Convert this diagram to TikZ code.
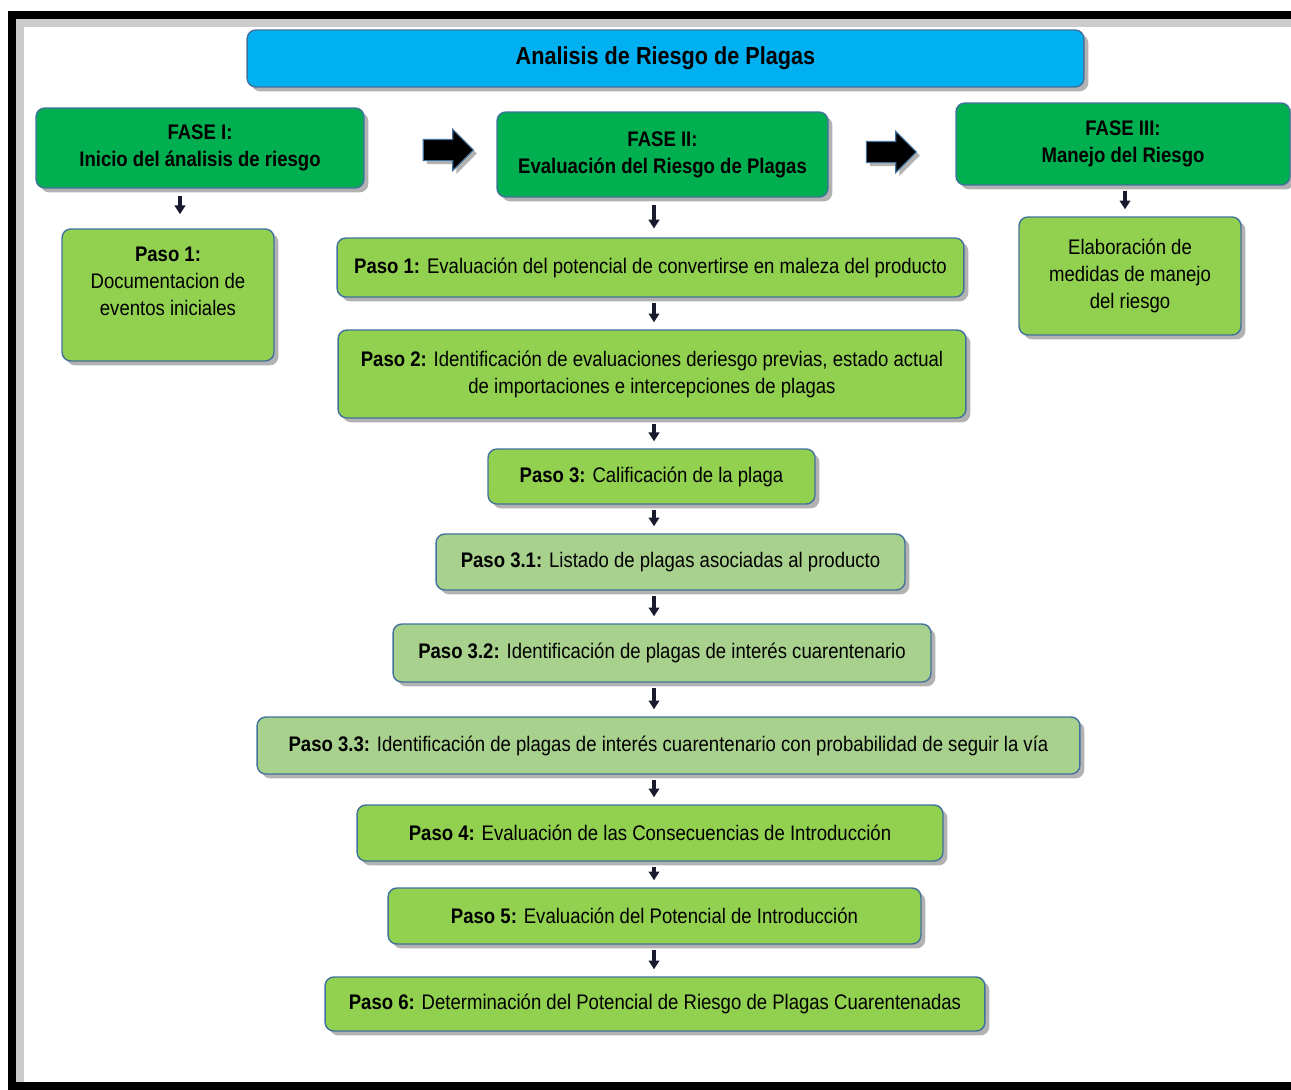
\documentclass[tikz,border=0pt]{standalone}
\usepackage{fontspec}
\setmainfont{Liberation Sans}[FakeStretch=0.88]
\usepackage{xcolor}
\usepackage{tikz}
\usetikzlibrary{arrows.meta,positioning,shapes.arrows,shadows}

\definecolor{titleblue}{HTML}{00B0F0}
\definecolor{phasegreen}{HTML}{00B050}
\definecolor{stepgreen}{HTML}{92D050}
\definecolor{subgreen}{HTML}{A9D18E}
\definecolor{edgeblue}{HTML}{41719C}
\definecolor{arrowink}{HTML}{1A1A2E}

\begin{document}
\begin{tikzpicture}[
  x=0.02cm, y=-0.02cm,
  box/.style={rectangle, draw=edgeblue, line width=0.8pt, rounded corners=5pt,
              align=center, inner sep=2pt, font=\fontsize{12}{15.3}\selectfont,
              drop shadow={shadow xshift=2.5pt, shadow yshift=-2.5pt,
                           fill=black, opacity=0.3}},
  phase/.style={box, fill=phasegreen, font=\fontsize{12}{15.3}\selectfont\bfseries},
  stepbox/.style={box, fill=stepgreen},
  substep/.style={box, fill=subgreen},
  bigarr/.style={single arrow, fill=black, draw=edgeblue, line width=0.6pt,
                 inner xsep=0pt, inner ysep=0.2cm, minimum height=1cm,
                 single arrow head extend=0.2cm, single arrow tip angle=90,
                 drop shadow={shadow xshift=2pt, shadow yshift=-2pt,
                              fill=black, opacity=0.3}},
  arr/.style={-{Triangle[length=5pt,width=6pt]}, line width=2pt, draw=arrowink,
              shorten <=3pt, shorten >=4pt}
]
\useasboundingbox (0,0) rectangle (1291,1089);

% frame
\draw[black!20, line width=5pt] (1291,23) -- (20,23) -- (20,1089);
\draw[black, line width=0.16cm] (1291,15) -- (12,15) -- (12,1086) -- (1291,1086);

% title and phases
\node[box, fill=titleblue, minimum width=16.74cm, minimum height=1.14cm,
      font=\fontsize{14}{17}\selectfont\bfseries] (title) at (665.5,58.5)
      {Analisis de Riesgo de Plagas};

\node[phase, minimum width=6.56cm, minimum height=1.6cm] (f1) at (200,148)
      {FASE I:\\Inicio del ánalisis de riesgo};
\node[phase, minimum width=6.62cm, minimum height=1.7cm] (f2) at (662.5,154.5)
      {FASE II:\\Evaluación del Riesgo de Plagas};
\node[phase, minimum width=6.68cm, minimum height=1.64cm] (f3) at (1123,144)
      {FASE III:\\Manejo del Riesgo};

\node[bigarr] (a12) at (443,150) {};
\node[bigarr] (a23) at (886,152) {};

% side boxes
\node[stepbox, minimum width=4.24cm, minimum height=2.64cm] (p1) at (168,295)
      {\textbf{Paso 1:}\\Documentacion de\\eventos iniciales\\~};
\node[stepbox, minimum width=4.44cm, minimum height=2.36cm] (el) at (1130,276)
      {Elaboración de\\medidas de manejo\\del riesgo};

% steps of phase II
\node[stepbox, minimum width=12.54cm, minimum height=1.18cm] (s1) at (650.5,267.5)
      {\textbf{Paso 1:} Evaluación del potencial de convertirse en maleza del producto};
\node[stepbox, minimum width=12.56cm, minimum height=1.76cm] (s2) at (652,374)
      {\textbf{Paso 2:} Identificación de evaluaciones deriesgo previas, estado actual\\
       de importaciones e intercepciones de plagas};
\node[stepbox, minimum width=6.54cm, minimum height=1.1cm] (s3) at (651.5,476.5)
      {\textbf{Paso 3:} Calificación de la plaga};
\node[substep, minimum width=9.38cm, minimum height=1.12cm] (s31) at (670.5,562)
      {\textbf{Paso 3.1:} Listado de plagas asociadas al producto};
\node[substep, minimum width=10.76cm, minimum height=1.16cm] (s32) at (662,653)
      {\textbf{Paso 3.2:} Identificación de plagas de interés cuarentenario};
\node[substep, minimum width=16.46cm, minimum height=1.14cm] (s33) at (668.5,745.5)
      {\textbf{Paso 3.3:} Identificación de plagas de interés cuarentenario con probabilidad de seguir la vía};
\node[stepbox, minimum width=11.72cm, minimum height=1.12cm] (s4) at (650,833)
      {\textbf{Paso 4:} Evaluación de las Consecuencias de Introducción};
\node[stepbox, minimum width=10.66cm, minimum height=1.12cm] (s5) at (654.5,916)
      {\textbf{Paso 5:} Evaluación del Potencial de Introducción};
\node[stepbox, minimum width=13.2cm, minimum height=1.08cm] (s6) at (655,1004)
      {\textbf{Paso 6:} Determinación del Potencial de Riesgo de Plagas Cuarentenadas};

% connectors
\coordinate (col) at (654,0);
\draw[arr, shorten <=4pt, shorten >=8pt] (f1.south -| 180,0) -- (p1.north -| 180,0);
\draw[arr, shorten <=4pt, shorten >=5pt] (f2.south -| col) -- (s1.north -| col);
\draw[arr] (f3.south -| 1125,0) -- (el.north -| 1125,0);
\foreach \a/\b in {s1/s2, s2/s3, s3/s31, s31/s32, s32/s33, s33/s4, s4/s5, s5/s6}
  \draw[arr] (\a.south -| col) -- (\b.north -| col);

\end{tikzpicture}
\end{document}
